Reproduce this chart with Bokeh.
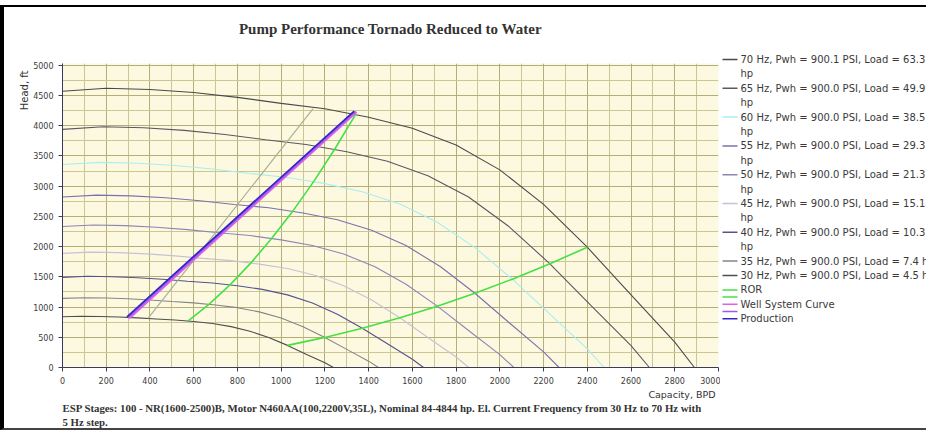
from bokeh.plotting import figure
from bokeh.models import Range1d, FixedTicker, Title
from bokeh.layouts import row, column
from bokeh.embed import file_html
from bokeh.resources import INLINE
from bokeh.core.properties import value

# ---- pump curves: capacity (BPD) and head (ft) at each drive frequency ----
frequencies = [70, 65, 60, 55, 50, 45, 40, 35, 30]
wellhead_psi = ["900.1", "900.0", "900.0", "900.0", "900.0", "900.0", "900.0", "900.0", "900.0"]
load_hp = ["63.3", "49.9", "38.5", "29.3", "21.3", "15.1", "10.3", "7.4", "4.5"]

q70 = [0, 200, 400, 600, 800, 1000, 1200, 1400, 1600, 1800, 2000, 2200, 2400, 2600, 2800, 2890]
h70 = [4570, 4620, 4600, 4550, 4470, 4370, 4280, 4140, 3960, 3680, 3270, 2700, 1990, 1200, 420, 0]

q65 = [0, 186, 371, 557, 743, 929, 1114, 1300, 1486, 1671, 1857, 2043, 2229, 2414, 2600, 2684]
h65 = [3940, 3984, 3966, 3923, 3854, 3768, 3690, 3570, 3414, 3173, 2820, 2328, 1716, 1035, 362, 0]

q60 = [0, 171, 343, 514, 686, 857, 1029, 1200, 1371, 1543, 1714, 1886, 2057, 2229, 2400, 2477]
h60 = [3358, 3394, 3380, 3343, 3284, 3211, 3145, 3042, 2909, 2704, 2402, 1984, 1462, 882, 309, 0]

q55 = [0, 157, 314, 471, 629, 786, 943, 1100, 1257, 1414, 1571, 1729, 1886, 2043, 2200, 2271]
h55 = [2821, 2852, 2840, 2809, 2760, 2698, 2642, 2556, 2445, 2272, 2019, 1667, 1229, 741, 259, 0]

q50 = [0, 143, 286, 429, 571, 714, 857, 1000, 1143, 1286, 1429, 1571, 1714, 1857, 2000, 2064]
h50 = [2332, 2357, 2347, 2321, 2281, 2230, 2184, 2112, 2020, 1878, 1668, 1378, 1015, 612, 214, 0]

q45 = [0, 129, 257, 386, 514, 643, 771, 900, 1029, 1157, 1286, 1414, 1543, 1671, 1800, 1858]
h45 = [1889, 1909, 1901, 1880, 1847, 1806, 1769, 1711, 1637, 1521, 1351, 1116, 822, 496, 174, 0]

q40 = [0, 114, 229, 343, 457, 571, 686, 800, 914, 1029, 1143, 1257, 1371, 1486, 1600, 1651]
h40 = [1492, 1509, 1502, 1486, 1460, 1427, 1398, 1352, 1293, 1202, 1068, 882, 650, 392, 137, 0]

q35 = [0, 100, 200, 300, 400, 500, 600, 700, 800, 900, 1000, 1100, 1200, 1300, 1400, 1445]
h35 = [1143, 1155, 1150, 1138, 1118, 1093, 1070, 1035, 990, 920, 818, 675, 498, 300, 105, 0]

q30 = [0, 86, 171, 257, 343, 429, 514, 600, 686, 771, 857, 943, 1029, 1114, 1200, 1239]
h30 = [839, 849, 845, 836, 821, 803, 786, 760, 727, 676, 601, 496, 366, 220, 77, 0]

curve_q = [q70, q65, q60, q55, q50, q45, q40, q35, q30]
curve_h = [h70, h65, h60, h55, h50, h45, h40, h35, h30]
curve_colors = ["#4a4a4a", "#5e5660", "#a8eef0", "#7a72aa", "#8c86b4",
                "#c4c2d4", "#55538c", "#858585", "#4e4e4e"]

# recommended operating range, one point per frequency (30 ... 70 Hz)
ror_left_q = [575, 671, 767, 863, 958, 1054, 1150, 1246, 1342]
ror_left_h = [771, 1049, 1371, 1735, 2142, 2591, 3084, 3619, 4197]
ror_right_q = [1029, 1200, 1371, 1543, 1714, 1886, 2057, 2229, 2400]
ror_right_h = [366, 498, 650, 822, 1015, 1229, 1462, 1716, 1990]

# well system and production lines
aux_q = [391, 1146]
aux_h = [811, 4285]
well_q = [305, 1345]
well_h = [812, 4228]
well2_q = [300, 1340]
well2_h = [826, 4236]
prod_q = [295, 1334]
prod_h = [838, 4242]

x_ticks = list(range(0, 3001, 200))
y_ticks = list(range(0, 5001, 500))

title_text = "Pump Performance Tornado Reduced to Water"
x_label = "Capacity, BPD"
y_label = "Head, ft"
note_lines = [
    "ESP Stages: 100 - NR(1600-2500)B, Motor N460AA(100,2200V,35L), Nominal 84-4844 hp. El. Current Frequency from 30 Hz to 70 Hz with",
    "5 Hz step.",
]

GREEN = "#44e044"

# page layout (pixels): title strip on top, chart and legend below it
TOP, STRIP_H, CHART_H = 7, 40, 381


def blank_panel(width, height, x0, x1, y_top, y_bottom):
    """A bare figure whose data units are page pixels (y grows downwards)."""
    f = figure(width=width, height=height, output_backend="svg", toolbar_location=None,
               x_range=Range1d(x0, x1), y_range=Range1d(y_bottom, y_top),
               min_border_left=0, min_border_right=0, min_border_top=0, min_border_bottom=0,
               background_fill_color="white", border_fill_color="white",
               outline_line_color=None)
    f.frame_align = False
    f.axis.visible = False
    f.grid.visible = False
    return f


# ---------------- title strip ----------------
tf = blank_panel(922, STRIP_H, 4, 926, TOP, TOP + STRIP_H)
tf.text(x=[390], y=[28], text=[title_text], text_font=value("Liberation Serif"),
        text_font_style="bold", text_font_size="15px", text_color="#333333",
        text_align="center", text_baseline="middle")

# ---------------- main chart ----------------
p = figure(width=716, height=CHART_H, output_backend="svg", toolbar_location=None,
           x_range=Range1d(0, 3000), y_range=Range1d(0, 5030),
           min_border_left=58, min_border_right=2, min_border_top=63 - TOP - STRIP_H,
           min_border_bottom=61,
           background_fill_color="#fdf9e1", border_fill_color="white",
           outline_line_color=None)
p.frame_align = False

for ax, ticks in ((p.xaxis[0], x_ticks), (p.yaxis[0], y_ticks)):
    ax.ticker = FixedTicker(ticks=ticks)
    ax.axis_line_color = "#3a3a5a"
    ax.major_tick_line_color = "#3a3a5a"
    ax.minor_tick_line_color = None
    ax.major_tick_in = 0
    ax.major_tick_out = 4
    ax.major_label_text_font = "DejaVu Sans"
    ax.major_label_text_font_size = "8px"
    ax.major_label_text_color = "#3c3c3c"
p.xaxis.major_label_standoff = 5
p.yaxis.major_label_standoff = 5

p.xgrid.ticker = FixedTicker(ticks=x_ticks, minor_ticks=list(range(100, 3000, 200)))
p.ygrid.ticker = FixedTicker(ticks=y_ticks, minor_ticks=list(range(250, 5030, 500)))
for g in (p.xgrid[0], p.ygrid[0]):
    g.grid_line_color = "#b4ae78"
    g.grid_line_width = 1
    g.minor_grid_line_color = "#cbc696"
    g.minor_grid_line_width = 1

for q, h, c in zip(curve_q, curve_h, curve_colors):
    p.line(q, h, line_color=c, line_width=1.1)

p.line(aux_q, aux_h, line_color="#a9b290", line_width=1.2)
p.line(ror_left_q, ror_left_h, line_color=GREEN, line_width=1.6)
p.line(ror_right_q, ror_right_h, line_color=GREEN, line_width=1.6)
p.line(well_q, well_h, line_color="#e060e8", line_width=2)
p.line(well2_q, well2_h, line_color="#9a5cf0", line_width=1.5)
p.line(prod_q, prod_h, line_color="#3424c4", line_width=1.8)

# axis captions and the footnote in the side panels
p.add_layout(Title(text=y_label, align="right", text_font="DejaVu Sans",
                   text_font_style="normal", text_font_size="10px", text_color="#333333",
                   standoff=2, offset=7), "left")
p.add_layout(Title(text=x_label, align="right", text_font="DejaVu Sans",
                   text_font_style="normal", text_font_size="9.5px", text_color="#333333",
                   standoff=0, offset=3), "below")
for line in note_lines:
    p.add_layout(Title(text=line, align="left", text_font="Liberation Serif",
                       text_font_style="bold", text_font_size="10.8px", text_color="#333333",
                       standoff=0), "below")

# ---------------- legend panel ----------------
lg = blank_panel(206, CHART_H, 720, 926, TOP + STRIP_H, TOP + STRIP_H + CHART_H)

entries = []  # (label lines, colour, height in rows)
for f, psi, load, c in zip(frequencies, wellhead_psi, load_hp, curve_colors):
    main = f"{f} Hz, Pwh = {psi} PSI, Load = {load}"
    if len(load) > 3:
        entries.append(([main, "hp"], c, 2))
    else:
        entries.append(([main + " hp"], c, 1))
entries += [(["ROR"], GREEN, 0.5), ([""], GREEN, 0.5),
            (["Well System Curve"], "#e060e8", 0.5), ([""], "#9a5cf0", 0.5),
            (["Production"], "#3424c4", 1)]

row_h = 14.4
y = 59.0
sx0, sx1, tx, ty, tt, sy, sc = [], [], [], [], [], [], []
for lines, c, rows in entries:
    sx0.append(722); sx1.append(737); sy.append(y); sc.append(c)
    for k, t in enumerate(lines):
        if t:
            tx.append(740); ty.append(y + k * row_h); tt.append(t)
    y += rows * row_h

lg.segment(x0=sx0, y0=sy, x1=sx1, y1=sy, line_color=sc, line_width=1.5)
lg.text(x=tx, y=ty, text=tt, text_font=value("DejaVu Sans"),
        text_font_size="10px", text_color="#3a3a3a", text_baseline="middle")

layout = column(tf, row(p, lg),
                styles={"border-left": "4px solid #000", "border-top": "2px solid #000",
                        "border-bottom": "2px solid #444", "margin-top": "5px"})

open("out.html", "w").write(file_html(layout, INLINE))
